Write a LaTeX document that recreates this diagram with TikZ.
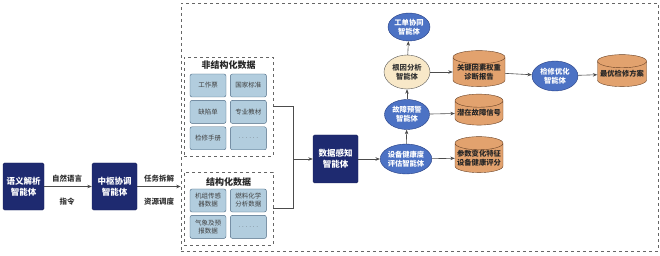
\documentclass[tikz,border=0pt]{standalone}
\usepackage{fontspec}
\setmainfont{Noto Sans CJK SC}
\usetikzlibrary{shapes.geometric, arrows.meta, positioning}

\definecolor{agentnavy}{RGB}{30,42,112}
\definecolor{agentblue}{RGB}{76,114,196}
\definecolor{agentline}{RGB}{38,62,130}
\definecolor{rootbeige}{RGB}{248,232,200}
\definecolor{dbtan}{RGB}{226,162,110}
\definecolor{dbline}{RGB}{105,66,38}
\definecolor{docblue}{RGB}{178,205,222}
\definecolor{docline}{RGB}{72,102,128}

\begin{document}
\begin{tikzpicture}[
    x=1pt, y=-1pt,
    navybox/.style={rectangle, rounded corners=1.5pt, minimum width=45pt, minimum height=47pt, align=center, draw=agentnavy!80!black, fill=agentnavy, text=white, font=\fontsize{8.5}{11}\selectfont\bfseries},
    agent/.style={ellipse, inner sep=0pt, minimum width=48pt, minimum height=30pt, align=center, draw=agentline, fill=agentblue, text=white, font=\fontsize{7.3}{9}\selectfont\bfseries},
    rootagent/.style={agent, draw=gray!70!black, fill=rootbeige, text=black!80},
    db/.style={cylinder, shape border rotate=90, aspect=0.3, inner sep=0pt, minimum width=50pt, minimum height=34pt, align=center, draw=dbline, fill=dbtan, text=black!85, font=\fontsize{7.3}{9}\selectfont\bfseries},
    doc/.style={rectangle, rounded corners=2pt, minimum width=36pt, minimum height=23pt, inner sep=1pt, align=center, draw=docline, fill=docblue, text=black!75, font=\fontsize{6.5}{8}\selectfont},
    group/.style={rectangle, draw=gray!80!black, dashed, line width=0.6pt},
    grouptitle/.style={font=\fontsize{9}{10}\selectfont\bfseries, text=black!85},
    lbl/.style={font=\fontsize{7.5}{9}\selectfont\bfseries, text=black!80},
    line/.style={draw=black!70, line width=0.6pt},
    arrow/.style={line, -{Stealth[length=4.5pt, width=3.5pt]}}
]
    \useasboundingbox (0,0) rectangle (660,256);

    % outer frame and the two data groups
    \node (outer) [group, minimum width=477pt, minimum height=248pt] at (419.5,127) {};
    \node (unstr) [group, minimum width=89pt, minimum height=99pt] at (228.5,106.5) {};
    \node (str) [group, minimum width=89pt, minimum height=73pt] at (228.5,208.5) {};
    \node (unstrtitle) [grouptitle] at (228.5,65) {非结构化数据};
    \node (strtitle) [grouptitle] at (228.5,182) {结构化数据};

    % documents
    \node (ticket) [doc] at (208,85.5) {工作票};
    \node (standard) [doc, right=4pt of ticket] {国家标准};
    \node (defect) [doc, below=3pt of ticket] {缺陷单};
    \node (textbook) [doc, right=4pt of defect] {专业教材};
    \node (manual) [doc, below=3pt of defect] {检修手册};
    \node (moredocs) [doc, right=4pt of manual] {$\cdots\cdots$};
    \node (sensor) [doc] at (208,200.5) {机组传感\\器数据};
    \node (fuel) [doc, right=4pt of sensor] {燃料化学\\分析数据};
    \node (weather) [doc, below=3pt of sensor] {气象及预\\报数据};
    \node (moredata) [doc, right=4pt of weather] {$\cdots\cdots$};

    % agents
    \node (semantic) [navybox, minimum width=41pt] at (23.5,186.5) {语义解析\\智能体};
    \node (hub) [navybox] at (114.5,186.5) {中枢协调\\智能体};
    \node (sense) [navybox, minimum height=48pt] at (335.5,159) {数据感知\\智能体};
    \node (health) [agent, minimum width=50pt] at (406,159) {设备健康度\\评估智能体};
    \node (warn) [agent, minimum width=45pt] at (407,114.5) {故障预警\\智能体};
    \node (root) [rootagent, minimum width=46pt, minimum height=34pt] at (407,72) {根因分析\\智能体};
    \node (order) [agent, minimum width=42pt, minimum height=28pt] at (409,27) {工单协同\\智能体};
    \node (optim) [agent, minimum width=46pt, minimum height=30pt] at (555,76) {检修优化\\智能体};

    % results
    \node (report) [db, minimum width=52pt, minimum height=36pt] at (479,72) {关键因素权重\\诊断报告};
    \node (signal) [db, minimum width=48pt, minimum height=31pt] at (479,113) {潜在故障信号};
    \node (score) [db, minimum width=48pt] at (479,158) {参数变化特征\\设备健康评分};
    \node (plan) [db, minimum width=49pt, minimum height=32pt] at (622,74) {最优检修方案};

    % labels on the left
    \node (natlang) [lbl] at (67,179) {自然语言};
    \node (instr) [lbl] at (67,202) {指令};
    \node (split) [lbl] at (159,179) {任务拆解};
    \node (sched) [lbl] at (159,202) {资源调度};

    \coordinate (join) at (293,159);

    \draw [arrow] (semantic) -- (hub);
    \draw [arrow] (hub) -- (outer.west |- hub.east);
    \draw [line] (unstr.east) -| (join);
    \draw [line] (str.east) -| (join);
    \draw [arrow] (join) -- (sense);
    \draw [arrow] (sense) -- (health);
    \draw [arrow] (health) -- (warn);
    \draw [arrow] (warn) -- (root);
    \draw [arrow] (root) -- (order);
    \draw [arrow] (health) -- (score);
    \draw [arrow] (warn) -- (signal);
    \draw [arrow] (root) -- (report);
    \draw [arrow] (report) -- (optim);
    \draw [arrow] (optim) -- (plan);
\end{tikzpicture}
\end{document}
